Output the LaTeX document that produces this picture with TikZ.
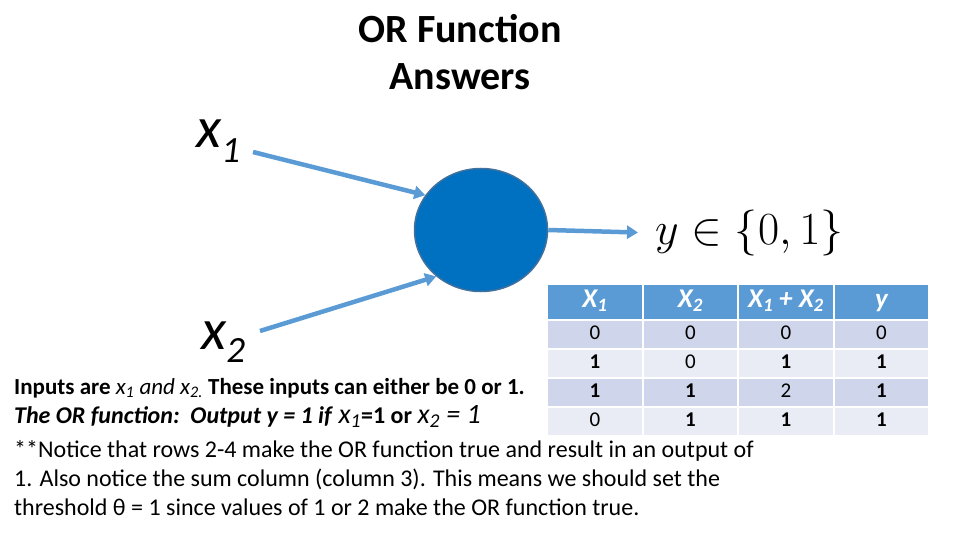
\RequirePackage{fix-cm}
\documentclass[tikz,border=0pt]{standalone}
\usepackage{fontspec}
\setmainfont{Carlito}
\usetikzlibrary{arrows.meta,positioning,shapes.geometric,matrix}
\definecolor{nnblue}{RGB}{0,112,192}
\definecolor{nnedge}{RGB}{65,113,156}
\definecolor{arrblue}{RGB}{91,155,213}
\definecolor{rowdark}{RGB}{207,213,234}
\definecolor{rowlight}{RGB}{233,235,245}

\begin{document}
\begin{tikzpicture}[x=1pt,y=-1pt,
  txt/.style={anchor=base west, inner sep=0pt, font=\fontsize{24}{29}\selectfont},
  ttl/.style={anchor=base, inner sep=0pt, font=\fontsize{40}{47}\selectfont\bfseries},
  arr/.style={-{Triangle[length=11pt,width=13pt]}, line width=4.5pt, draw=arrblue},
  cell/.style={minimum width=93.5pt, minimum height=27.5pt, inner sep=0pt,
               anchor=center, text height=14pt, text depth=4pt,
               font=\fontsize{21}{21}\selectfont},
  hdr/.style={fill=arrblue, text=white, minimum height=34pt, text height=17pt,
              text depth=6pt, font=\fontsize{27}{27}\selectfont\bfseries\itshape},
  dark/.style={fill=rowdark},
  light/.style={fill=rowlight}
]
\useasboundingbox (0,0) rectangle (960,540);

\node[ttl] (title) at (460,43) {OR Function};
\node[ttl] (answers) at (460,90) {Answers};

\node[inner sep=0pt, anchor=base west] (x1) at (196,148)
  {\fontsize{58}{58}\selectfont\itshape x\raisebox{-15pt}{\fontsize{37}{37}\selectfont 1}};
\node[inner sep=0pt, anchor=base west] (x2) at (201,349)
  {\fontsize{58}{58}\selectfont\itshape x\raisebox{-13pt}{\fontsize{37}{37}\selectfont 2}};

\node[ellipse, fill=nnblue, draw=nnedge, line width=1.5pt,
      minimum width=133pt, minimum height=123pt] (neuron) at (481,230) {};
\node[anchor=west, inner sep=0pt] (out) at (655,233)
  {\fontsize{46}{46}\selectfont $y \in \{0,1\}$};

\coordinate (x1tail) at (253,152);
\coordinate (x2tail) at (260,331);
\draw[arr] (x1tail) -- (neuron.148);
\draw[arr] (x2tail) -- (neuron.226);
\draw[arr, shorten >=17pt] (neuron.east) -- (out.west);

% truth table
\matrix (tt) [matrix of nodes, anchor=north west, inner sep=0pt,
              column sep=2pt, row sep=1.5pt, nodes={cell},
              row 1/.style={nodes={hdr}}, row 2/.style={nodes={dark}},
              row 3/.style={nodes={light}}, row 4/.style={nodes={dark}},
              row 5/.style={nodes={light}}] at (548,285) {
  X\textsubscript{1} & X\textsubscript{2} & X\textsubscript{1} + X\textsubscript{2} & y \\
  0 & 0 & 0 & 0 \\
  \textbf{1} & 0 & \textbf{1} & \textbf{1} \\
  \textbf{1} & \textbf{1} & 2 & \textbf{1} \\
  0 & \textbf{1} & \textbf{1} & \textbf{1} \\
};

\node[txt, font=\fontsize{23}{29}\selectfont] (inputs) at (14,394)
  {\textbf{Inputs are} \textit{x\textsubscript{1} and x\textsubscript{2.}} \textbf{These inputs can either be 0 or 1.}};
\node[txt] (orfn) at (14,423)
  {\textbf{\textit{The OR function:\ \ Output y = 1 if }}{\itshape\fontsize{28}{28}\selectfont x\textsubscript{1}}\textbf{=1 or} {\itshape\fontsize{28}{28}\selectfont x\textsubscript{2} = 1}};
\node[txt] (note1) at (14,457)
  {**Notice that rows 2-4 make the OR function true and result in an output of};
\node[txt] (note2) at (14,486)
  {1. Also notice the sum column (column 3). This means we should set the};
\node[txt] (note3) at (14,515)
  {threshold θ = 1 since values of 1 or 2 make the OR function true.};
\end{tikzpicture}
\end{document}
